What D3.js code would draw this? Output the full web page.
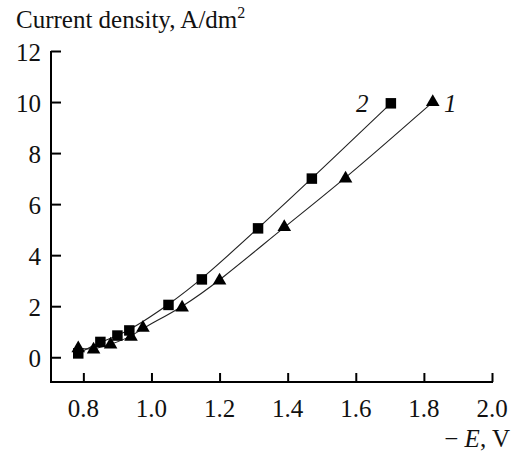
<!DOCTYPE html>
<html>
<head>
<meta charset="utf-8">
<script src="https://cdn.jsdelivr.net/npm/d3@7"></script>
<style>
  html, body { margin: 0; padding: 0; background: #fff; }
  svg text { font-family: "Liberation Serif", "Times New Roman", serif; fill: #111; }
</style>
</head>
<body>
<svg id="chart" width="513" height="453"></svg>
<script>
// Potential (−E, V) and current density (A/dm²) for the two curves
const series1E = [0.785, 0.83, 0.88, 0.94, 0.975, 1.09, 1.20, 1.39, 1.57, 1.826];
const series1J = [0.35, 0.30, 0.50, 0.80, 1.15, 1.95, 3.00, 5.10, 7.00, 10.0];
const series2E = [0.785, 0.85, 0.90, 0.935, 1.05, 1.148, 1.313, 1.471, 1.703];
const series2J = [0.15, 0.60, 0.85, 1.05, 2.05, 3.05, 5.05, 7.00, 9.95];
const xTicks = [0.8, 1.0, 1.2, 1.4, 1.6, 1.8, 2.0];
const yTicks = [0, 2, 4, 6, 8, 10, 12];

const svg = d3.select("#chart");
const x = d3.scaleLinear().domain([0.705, 2.0]).range([51, 492]);
const y = d3.scaleLinear().domain([-0.97, 12]).range([382, 51]);

// Axes with inward ticks
const xAxis = d3.axisTop(x).tickValues(xTicks).tickSize(9).tickSizeOuter(0).tickFormat(() => "");
const yAxis = d3.axisRight(y).tickValues(yTicks).tickSize(10).tickSizeOuter(0).tickFormat(() => "");

const gx = svg.append("g").attr("transform", "translate(0,382)").call(xAxis);
const gy = svg.append("g").attr("transform", "translate(51,0)").call(yAxis);
[gx, gy].forEach(g => {
  g.selectAll("path.domain").attr("stroke", "#000").attr("stroke-width", 2);
  g.selectAll(".tick line").attr("stroke", "#000").attr("stroke-width", 2);
});
gy.select("path.domain").attr("d", `M0,${y(12)}V383`);
gx.select("path.domain").attr("d", `M50,0H${x(2.0) + 1}`);

// Tick labels
svg.append("g").selectAll("text").data(xTicks).join("text")
  .attr("x", d => x(d)).attr("y", 417)
  .attr("text-anchor", "middle").attr("font-size", 25)
  .text(d => d.toFixed(1));
svg.append("g").selectAll("text").data(yTicks).join("text")
  .attr("x", 41).attr("y", d => y(d) + 10)
  .attr("text-anchor", "end").attr("font-size", 25)
  .text(d => d);

// Axis titles
const yt = svg.append("text").attr("x", 16).attr("y", 28).attr("font-size", 25);
yt.append("tspan").text("Current density, A/dm");
yt.append("tspan").attr("font-size", 16).attr("dy", -10).text("2");

const xt = svg.append("text").attr("x", 510).attr("y", 447).attr("text-anchor", "end").attr("font-size", 25);
xt.append("tspan").text("\u2212 ");
xt.append("tspan").attr("font-style", "italic").text("E");
xt.append("tspan").text(", V");

// Smoothed curves through each series
const line = d3.line().x(d => x(d[0])).y(d => y(d[1])).curve(d3.curveBasis);
const pts1 = series1E.map((e, i) => [e, series1J[i]]);
const pts2 = series2E.map((e, i) => [e, series2J[i]]);
[pts1, pts2].forEach(p => {
  svg.append("path").datum(p).attr("d", line)
    .attr("fill", "none").attr("stroke", "#222").attr("stroke-width", 1.1);
});

// Markers
svg.append("g").selectAll("path").data(pts2).join("path")
  .attr("d", d3.symbol(d3.symbolSquare, 110))
  .attr("transform", d => `translate(${x(d[0])},${y(d[1])})`)
  .attr("fill", "#000");
svg.append("g").selectAll("path").data(pts1).join("path")
  .attr("d", d3.symbol(d3.symbolTriangle, 80))
  .attr("transform", d => `translate(${x(d[0])},${y(d[1])})`)
  .attr("fill", "#000");

// Curve numbers
svg.append("text").attr("x", 356).attr("y", 112).attr("font-size", 25).attr("font-style", "italic").text("2");
svg.append("text").attr("x", 444).attr("y", 112).attr("font-size", 25).attr("font-style", "italic").text("1");
</script>
</body>
</html>
